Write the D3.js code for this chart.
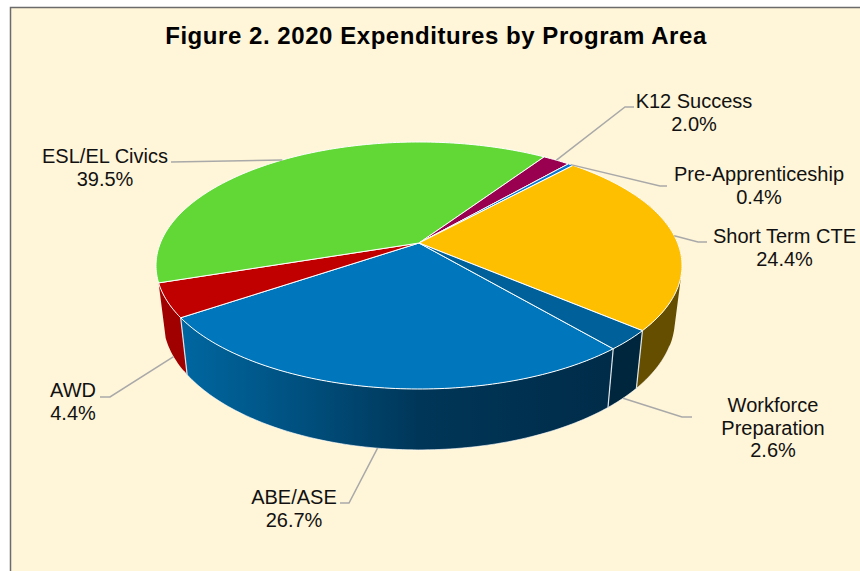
<!DOCTYPE html>
<html><head><meta charset="utf-8">
<script src="https://cdn.jsdelivr.net/npm/d3@7/dist/d3.min.js"></script>
<style>html,body{margin:0;padding:0;background:#fff}svg{display:block}</style>
</head><body><svg id="c" width="860" height="571"></svg>
<script>
const chartTitle = "Figure 2. 2020 Expenditures by Program Area";
const categories = ["ABE/ASE","AWD","ESL/EL Civics","K12 Success","Pre-Apprenticeship","Short Term CTE","Workforce Preparation"];
const shares = [26.7,4.4,39.5,2.0,0.4,24.4,2.6];
const topColors = ["#0077bd","#c00000","#61d836","#990050","#0a78d0","#fdbf00","#00609a"];

// layout
const W=860,H=571;
const E={cx:419,cy:265.5,rx:263,ry:123.5}, apexShift=-0.182;
const wallScaleX=.973, wallA=39.5, wallB=1.055;
const firstAngle=139.7*Math.PI/180;
const labelLayout={
 "ABE/ASE":{x:294,y:504,lines:["ABE/ASE"],end:[340,503],elbow:[349,503],wall:true},
 "AWD":{x:73,y:397,lines:["AWD"],end:[100,397],elbow:[110,397],wall:true},
 "ESL/EL Civics":{x:105,y:163,lines:["ESL/EL Civics"],end:[171,162],wall:false},
 "K12 Success":{x:694,y:108,lines:["K12 Success"],end:[634,107],elbow:[625,107],wall:false},
 "Pre-Apprenticeship":{x:759,y:181,lines:["Pre-Apprenticeship"],end:[667,186],elbow:[660,186],wall:false},
 "Short Term CTE":{x:784.5,y:243,lines:["Short Term CTE"],end:[707,242],elbow:[698,242],wall:false},
 "Workforce Preparation":{x:773,y:412,lines:["Workforce","Preparation"],end:[692,417],elbow:[682,417],wall:true}
};

const rows=categories.map((c,i)=>({name:c,value:shares[i],color:topColors[i]}));
const pie=d3.pie().value(d=>d.value).sort(null).startAngle(firstAngle).endAngle(firstAngle+2*Math.PI);
const arcs=pie(rows);

const sx=d3.scaleLinear().domain([-1,1]).range([E.cx-E.rx,E.cx+E.rx]);
const sy=d3.scaleLinear().domain([-1,1]).range([E.cy-E.ry,E.cy+E.ry]);
function proj(a){ // a clockwise from top; perspective map of unit circle
  const u=Math.sin(a), v=-Math.cos(a), k=apexShift, den=1+k*v;
  return [sx(u*Math.sqrt(1-k*k)/den), sy((v+k)/den)];
}
function low(p){return [E.cx+(p[0]-E.cx)*wallScaleX, wallA+wallB*p[1]];}
function samples(a0,a1){const n=Math.max(2,Math.ceil((a1-a0)/(Math.PI/180)));return d3.range(n+1).map(i=>a0+(a1-a0)*i/n);}
const apex=[sx(0),sy(apexShift)];
const norm=a=>((a%(2*Math.PI))+2*Math.PI)%(2*Math.PI);

const svg=d3.select("#c");
svg.append("rect").attr("width",W).attr("height",H).attr("fill","#fff");
svg.append("rect").attr("x",10.5).attr("y",7.5).attr("width",W+20).attr("height",H+20)
  .attr("fill","#fff5d8").attr("stroke","#6b6b6b").attr("stroke-width",1.5);

svg.append("text").attr("x",436).attr("y",44).attr("text-anchor","middle")
  .attr("font-family","Liberation Sans, Arial, sans-serif").attr("font-weight","bold")
  .attr("font-size",24).attr("letter-spacing",0.55).attr("fill","#000").text(chartTitle);

// wall shading (only slices that show a side wall)
const defs=svg.append("defs");
const wallStops={
 "ABE/ASE":[[185,"#00669f"],[300,"#00507f"],[420,"#003658"],[607,"#002c49"]],
 "AWD":[[160,"#a00000"],[185,"#a00000"]],
 "Short Term CTE":[[636,"#654e00"],[680,"#654e00"]],
 "Workforce Preparation":[[607,"#00263d"],[636,"#00263d"]]
};
categories.forEach((c,i)=>{
  const st=wallStops[c]; if(!st)return;
  const x0=st[0][0], x1=st[st.length-1][0];
  const g=defs.append("linearGradient").attr("id","w"+i).attr("gradientUnits","userSpaceOnUse")
    .attr("x1",x0).attr("x2",x1).attr("y1",0).attr("y2",0);
  st.forEach(s=>g.append("stop").attr("offset",(s[0]-x0)/(x1-x0)).attr("stop-color",s[1]));
});

const line=d3.line();
const wallG=svg.append("g");
arcs.forEach(d=>{
  if(!wallStops[d.data.name])return;
  const i=rows.indexOf(d.data);
  const as=samples(d.startAngle,d.endAngle).filter(a=>{const t=norm(a);return t>Math.PI*0.35&&t<Math.PI*1.65;});
  let path="";
  for(let j=0;j<as.length-1;j++){
    const p=proj(as[j]),q=proj(as[j+1]);
    const quad=[p,q,low(q),low(p)];
    if(d3.polygonArea(quad)<0)quad.reverse(); // same winding everywhere, so the sweep never cancels
    path+=line(quad)+"Z";
  }
  wallG.append("path").attr("d",path).attr("fill",`url(#w${i})`).attr("fill-rule","nonzero");
});
// lower rim and wall seams
wallG.append("path").attr("d",line(samples(Math.PI*.62,Math.PI*1.32).map(a=>low(proj(a))))).attr("fill","none")
  .attr("stroke","#fff").attr("stroke-width",.8).attr("opacity",.8);
arcs.forEach(d=>{
  const t=norm(d.startAngle);
  if(t>Math.PI*.6&&t<Math.PI*1.35){
    const p=proj(d.startAngle);
    wallG.append("line").attr("x1",p[0]).attr("y1",p[1]).attr("x2",low(p)[0]).attr("y2",low(p)[1])
      .attr("stroke","#dfe6ea").attr("stroke-width",1.2);
  }
});

// top face
svg.append("g").selectAll("path").data(arcs).join("path")
  .attr("d",d=>line([apex,...samples(d.startAngle,d.endAngle).map(proj)])+"Z")
  .attr("fill",d=>d.data.color).attr("stroke","#fff").attr("stroke-width",1).attr("stroke-linejoin","round");

// leaders
const lg=svg.append("g");
arcs.forEach(d=>{
  const L=labelLayout[d.data.name], mid=(d.startAngle+d.endAngle)/2;
  let p=proj(mid); if(L.wall)p=low(p);
  const pts=L.elbow?[L.end,L.elbow,p]:[L.end,p];
  lg.append("path").attr("d",line(pts)).attr("fill","none").attr("stroke","#a9a9a9").attr("stroke-width",1.5);
});

// labels
const tg=svg.append("g").attr("font-family","Liberation Sans, Arial, sans-serif").attr("font-size",20).attr("fill","#111").attr("text-anchor","middle");
rows.forEach(r=>{
  const L=labelLayout[r.name];
  const t=tg.append("text").attr("x",L.x).attr("y",L.y);
  L.lines.forEach((s,i)=>t.append("tspan").attr("x",L.x).attr("dy",i?22.5:0).text(s));
  t.append("tspan").attr("x",L.x).attr("dy",22.5).text(r.value.toFixed(1)+"%");
});
</script></body></html>
